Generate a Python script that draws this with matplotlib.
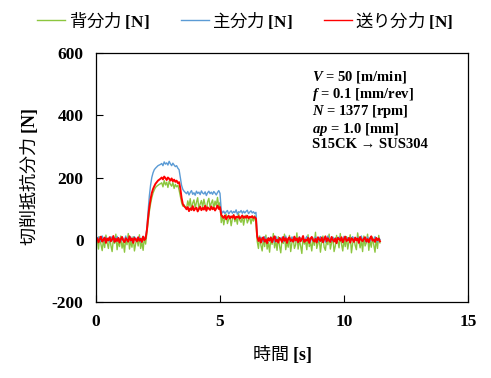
import numpy as np
import matplotlib
matplotlib.use("Agg")
import matplotlib.pyplot as plt

plt.rcParams['mathtext.fontset'] = 'custom'
plt.rcParams['mathtext.rm'] = 'Liberation Serif:bold'
plt.rcParams['mathtext.bf'] = 'Liberation Serif:bold'
plt.rcParams['mathtext.it'] = 'Liberation Serif:bold:italic'
plt.rcParams['axes.unicode_minus'] = False

# sampling step of the recorded signals [s]
dt = 0.05

# feed force (送り分力) [N]
feed_force = [
    -3, 5, -8, 2, 10, -6, 0, 7, -10, 4,
    -2, 8, -5, 1, 12, -7, 3, -4, 6, -9,
    2, 9, -3, -8, 5, 0, -6, 11, -2, 4,
    -10, 6, 1, -5, 8, -3, 3, -7, 10, -1,
    4,
    30, 70, 105, 130, 150, 163, 172, 180, 185, 190, 193, 196,
    200, 194, 203, 198, 192, 200, 196, 190, 197, 188, 193, 186, 190, 182, 185,
    165, 135, 115, 108, 104,
    98, 105, 92, 101, 96, 108, 94, 100, 103, 91,
    99, 106, 95, 102, 97, 109, 93, 104, 100, 96,
    107, 98, 103, 94, 101, 110, 99, 105,
    80, 74, 70, 78, 66, 73, 77, 69, 75, 71,
    79, 67, 74, 72, 76, 68, 73, 78, 70, 75,
    71, 77, 69, 74, 72, 76, 70, 73, 68,
    10, -4, 6, -9, 3, 8, -6, 1, -11, 5,
    -2, 7, -8, 4, 11, -5, 0, -9, 6, 2,
    -7, 9, -3, 5, -10, 3, 8, -4, 1, -6,
    10, -2, 4, -8, 7, -5, 2, 12, -7, 0,
    -3, 6, -10, 4, 9, -1, -6, 3, -9, 8,
    1, -4, 7, -8, 2, 11, -5, 5, -2, -7,
    9, 0, -6, 4, -11, 6, 3, -3, 8, -8,
    2, 10, -4, -1, 6, -9, 5, 1, -7, 7,
    -2, 4, -10, 9, 0, -5, 3, 8, -6, 2,
    -8, 5, 11, -3, 1, -7, 6, -1, 4, -5,
]

# principal force (主分力) [N]
main_force = [
    6, -2, 9, 1, -5, 12, 3, -4, 8, 0,
    5, -7, 10, 2, -3, 7, -6, 11, 1, 4,
    -5, 8, 3, -2, 12, -4, 6, 0, 9, -6,
    3, 10, -3, 5, -1, 8, -7, 4, 11, 2,
    7,
    35, 90, 140, 175, 200, 215, 225, 230, 234, 238, 240, 242,
    245, 238, 250, 243, 247, 240, 252, 244, 238, 246, 240, 235, 238, 230, 225,
    200, 175, 162, 156, 152,
    148, 155, 144, 152, 158, 146, 151, 143, 156, 149,
    153, 145, 157, 150, 147, 154, 142, 151, 156, 148,
    153, 146, 155, 150, 144, 152, 158, 149,
    95, 86, 92, 84, 90, 94, 83, 89, 93, 85,
    91, 87, 96, 82, 90, 88, 94, 85, 92, 86,
    91, 95, 84, 89, 93, 86, 90, 84, 88,
    15, 4, -3, 8, 1, -6, 10, 3, -2, 7,
    -5, 9, 0, 5, -8, 11, 2, -4, 6, -1,
    8, -7, 3, 12, -3, 5, 0, -6, 9, 2,
    -4, 7, 1, -9, 10, 4, -2, 6, -5, 3,
    11, -1, 5, -7, 8, 0, -3, 9, 2, -6,
    4, 10, -4, 1, 7, -8, 3, 12, -2, 5,
    -5, 8, 0, 6, -9, 3, 9, -1, 4, -6,
    11, 2, -3, 7, 0, -7, 5, 10, -4, 3,
    -1, 8, -6, 4, 12, -2, 6, 1, -8, 9,
    2, -5, 7, 0, -3, 10, 4, -7, 5, 1,
]

# thrust force (背分力) [N]
back_force = [
    -20, 5, -30, 10, -15, -35, 0, -25, 15, -10,
    -28, 8, -18, -38, 2, -12, 18, -32, -5, -22,
    12, -27, -8, -40, 6, -16, 20, -30, -3, -24,
    10, -36, -12, 4, -20, 16, -28, -6, -34, 8,
    -14,
    20, 55, 90, 115, 135, 150, 160, 168, 172, 175, 178, 180,
    183, 170, 190, 176, 185, 168, 188, 178, 172, 184, 165, 178, 170, 175, 160,
    140, 120, 108, 112, 105,
    100, 125, 108, 132, 95, 118, 128, 102, 120, 135,
    98, 115, 126, 105, 130, 112, 97, 122, 133, 104,
    118, 128, 100, 124, 110, 136, 106, 120,
    55, 78, 48, 70, 82, 52, 66, 75, 45, 68,
    80, 58, 72, 50, 84, 62, 56, 76, 47, 69,
    79, 54, 64, 73, 51, 71, 60, 77, 53,
    -5, -28, 12, -18, -36, 4, -22, 15, -30, -8,
    -40, 6, -15, 20, -26, -2, -34, 10, -20, -42,
    2, -12, 18, -32, -6, -24, 14, -38, -10, 8,
    -28, -16, 22, -30, 0, -20, -44, 10, -14, -4,
    -32, 16, -22, -8, -36, 6, -18, 24, -28, -12,
    4, -40, -6, 12, -24, -34, 0, -16, 18, -30,
    -10, 8, -38, -20, 14, -4, -26, 20, -14, -36,
    2, -22, 10, -30, -8, 16, -42, -12, 6, -18,
    -32, 22, -6, -26, 0, -38, 12, -20, -10, 18,
    -34, -2, -24, 8, -16, -40, 4, -28, 14, -10,
]

labels = ['背分力 $\\mathbf{[N]}$', '主分力 $\\mathbf{[N]}$', '送り分力 $\\mathbf{[N]}$']
colors = ['#8CC63E', '#5B9BD5', '#FF0000']
widths = [1.0, 1.0, 1.4]

conditions = [
    '$\\mathit{V}$ = 50 [m/min]',
    '$\\mathit{f}$ = 0.1 [mm/rev]',
    '$\\mathit{N}$ = 1377 [rpm]',
    '$\\mathit{ap}$ = 1.0 [mm]',
    'S15CK → SUS304',
]

jp = 'Noto Sans CJK JP'
serif = 'Liberation Serif'

fig = plt.figure(figsize=(4.91, 3.78), dpi=100)
ax = fig.add_axes([96 / 491, 76 / 378, 372 / 491, 249 / 378])

for y, c, w, lab in zip([back_force, main_force, feed_force], colors, widths, labels):
    t = np.arange(len(y)) * dt
    ax.plot(t, y, color=c, lw=w, label=lab)

ax.set_xlim(0, 15)
ax.set_ylim(-200, 600)
ax.set_xticks([0, 5, 10, 15])
ax.set_yticks([-200, 0, 200, 400, 600])
ax.tick_params(direction='in', length=5, width=0.8, labelsize=12.5)
ax.tick_params(axis='x', pad=9)
ax.tick_params(axis='y', pad=9)
for lbl in ax.get_xticklabels() + ax.get_yticklabels():
    lbl.set_family(serif)
    lbl.set_weight('bold')
for s in ax.spines.values():
    s.set_linewidth(0.9)

ax.set_xlabel('時間 $\\mathbf{[s]}$', family=jp, fontsize=13)
ax.xaxis.set_label_coords(0.5, -0.165)
ax.set_ylabel('切削抵抗分力 $\\mathbf{[N]}$', family=jp, fontsize=13)
ax.yaxis.set_label_coords(-0.15, 0.5)

ax.text(0.58, 0.935, '\n'.join(conditions), transform=ax.transAxes,
        ha='left', va='top', family=serif, weight='bold', fontsize=10.5,
        linespacing=1.05)

leg = fig.legend(loc='center', bbox_to_anchor=(0.5, 0.947), ncol=3, frameon=False,
                 prop={'family': jp, 'size': 12.5}, handlelength=1.6,
                 handletextpad=0.2, columnspacing=1.8)
for h in leg.get_lines():
    h.set_linewidth(1.0)

fig.savefig('out.png', dpi=100)
